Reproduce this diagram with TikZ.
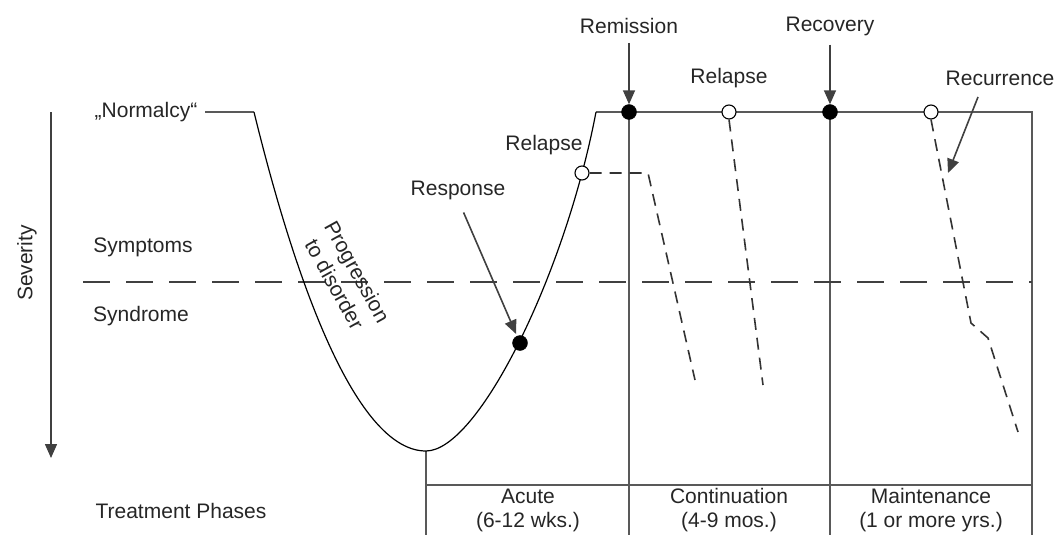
\documentclass[tikz,border=0pt]{standalone}
\usepackage{fontspec}
\setmainfont{Liberation Sans}
\usetikzlibrary{arrows.meta}
\begin{document}
\begin{tikzpicture}[x=1pt,y=-1pt,
  lbl/.style={inner sep=0pt, text=black!85, font=\fontsize{21}{24}\selectfont},
  frame/.style={draw=black!65, line width=1.9pt},
  curve/.style={draw=black, line width=1.2pt},
  thr/.style={draw=black!75, line width=1.6pt, dash pattern=on 27pt off 16pt},
  rel/.style={draw=black!80, line width=1.6pt, dash pattern=on 12pt off 8pt},
  fdot/.style={circle, fill=black, draw=black, minimum size=15pt, inner sep=0pt},
  odot/.style={circle, fill=white, draw=black, line width=1.1pt, minimum size=14pt, inner sep=0pt},
  arr/.style={draw=black!75, line width=1.6pt, -{Triangle[length=14pt,width=12pt]}}
]
\useasboundingbox (0,0) rectangle (1058,535);

% key points
\coordinate (n0) at (205,112);
\coordinate (n1) at (254,112);
\coordinate (v) at (426,451);
\coordinate (top) at (596,112);
\coordinate (tr) at (1032,112);
\coordinate (br) at (1032,535);
\coordinate (vb) at (426,535);
\coordinate (t1) at (629,112);
\coordinate (t1b) at (629,535);
\coordinate (t2) at (830,112);
\coordinate (t2b) at (830,535);
\coordinate (hl) at (426,485);
\coordinate (hr) at (1032,485);
\coordinate (thl) at (83,282);
\coordinate (thr) at (1032,282);

% frame lines
\draw[frame] (n0) -- (n1);
\draw[frame] (top) -- (tr) -- (br);
\draw[frame] (t1) -- (t1b);
\draw[frame] (t2) -- (t2b);
\draw[frame] (v) -- (vb);
\draw[frame] (hl) -- (hr);

% threshold
\draw[thr] (thl) -- (thr);

% main curve
\draw[curve] (n1) .. controls (300,300) and (360,451) .. (v)
  .. controls (478,451) and (565,275) .. (top);

% dots
\node[fdot] (respdot) at (520,343) {};
\node[odot] (rel1) at (582,173) {};
\node[fdot] (remdot) at (629,112) {};
\node[odot] (rel2) at (729,112) {};
\node[fdot] (recdot) at (830,112) {};
\node[odot] (rec2) at (931,112) {};

% relapse dashes
\coordinate (r1a) at (648,173);
\coordinate (r1b) at (695,380);
\draw[rel] (rel1.east) -- (r1a) -- (r1b);
\coordinate (r2b) at (763,385);
\draw[rel] (rel2.south) -- (r2b);
\coordinate (r3a) at (971,323);
\coordinate (r3b) at (988,338);
\coordinate (r3c) at (1018,432);
\draw[rel] (rec2.south) -- (r3a) -- (r3b) -- (r3c);

% labels
\node[lbl] (norm) at (146,112) {„Normalcy“};
\node[lbl] (sym) at (143,247) {Symptoms};
\node[lbl] (syn) at (141,316) {Syndrome};
\node[lbl] (tp) at (181,511) {Treatment Phases};
\node[lbl, rotate=90] (sev) at (27,263) {Severity};
\node[lbl] (rem) at (629,26) {Remission};
\node[lbl] (rcv) at (830,26) {Recovery};
\node[lbl] (rl2) at (729,78) {Relapse};
\node[lbl] (rcr) at (1000,78) {Recurrence};
\node[lbl] (rl1) at (544,145) {Relapse};
\node[lbl] (resp) at (458,190) {Response};
\node[lbl, rotate=-61, align=center, font=\fontsize{21}{26}\selectfont] (prog) at (346,278) {Progression\\to disorder};
\node[lbl, align=center] (acute) at (528,510) {Acute\\(6-12 wks.)};
\node[lbl, align=center] (cont) at (729,510) {Continuation\\(4-9 mos.)};
\node[lbl, align=center] (maint) at (931,510) {Maintenance\\(1 or more yrs.)};

% arrows
\coordinate (sevA) at (51,112);
\coordinate (sevB) at (51,458);
\draw[arr] (sevA) -- (sevB);
\draw[arr, shorten <=9pt] (rem.south) -- (remdot.north);
\draw[arr, shorten <=9pt] (rcv.south) -- (recdot.north);
\draw[arr, shorten <=14pt, shorten >=2pt] (resp.south) -- (respdot);
\coordinate (rcA) at (978,97);
\coordinate (rcB) at (948,173);
\draw[arr] (rcA) -- (rcB);
\end{tikzpicture}
\end{document}
